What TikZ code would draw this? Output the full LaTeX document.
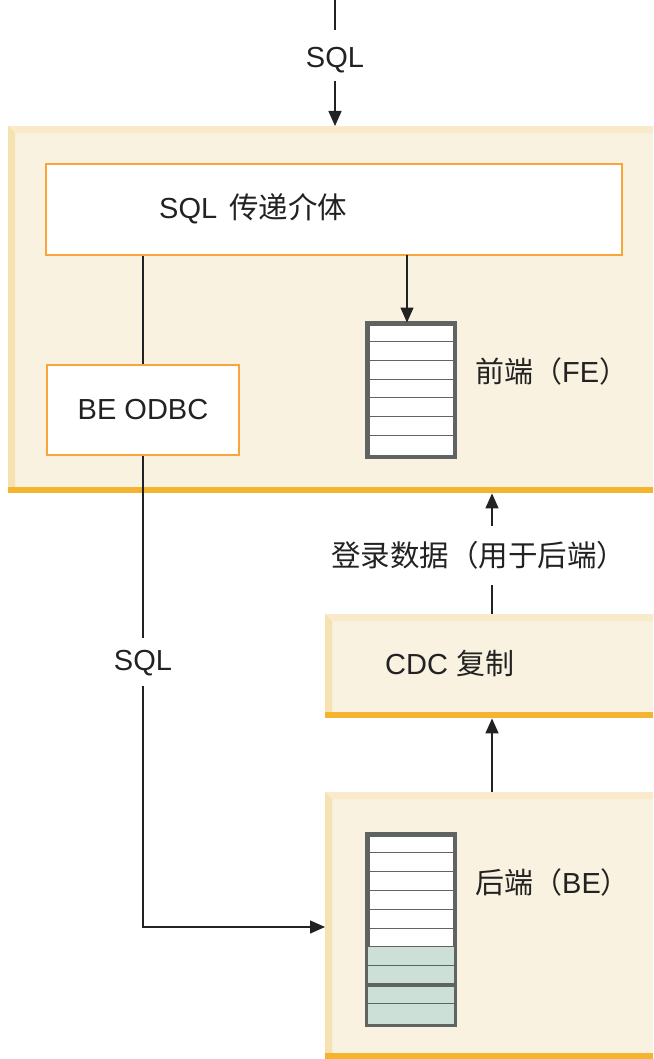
\documentclass[tikz,border=0pt]{standalone}
\usepackage{fontspec}
\setmainfont{Liberation Sans}
\newfontfamily\cjk{Noto Sans CJK SC}
\usetikzlibrary{arrows.meta}

\definecolor{cream}{HTML}{F9F2E1}
\definecolor{bevtop}{HTML}{F8EACB}
\definecolor{bevleft}{HTML}{F6E2B1}
\definecolor{barorange}{HTML}{F5B42E}
\definecolor{boxorange}{HTML}{F9A53A}
\definecolor{tabgray}{HTML}{5F6361}
\definecolor{rowgreen}{HTML}{CCE0D7}
\definecolor{ink}{HTML}{222222}

\tikzset{
  panel/.style={fill=cream, inner sep=0pt, anchor=north west, path picture={
    \fill[bevtop] (path picture bounding box.north west) -- (path picture bounding box.north east)
      -- ([yshift=-7pt]path picture bounding box.north east) -- ([shift={(7pt,-7pt)}]path picture bounding box.north west) -- cycle;
    \fill[bevleft] (path picture bounding box.north west) -- ([shift={(7pt,-7pt)}]path picture bounding box.north west)
      -- ([shift={(7pt,6pt)}]path picture bounding box.south west) -- (path picture bounding box.south west) -- cycle;
    \fill[barorange] (path picture bounding box.south west) rectangle ([yshift=6pt]path picture bounding box.south east);
  }},
  ibox/.style={draw=boxorange, line width=1.5pt, fill=white, inner sep=0pt},
  tab/.style={draw=tabgray, line width=3pt, fill=white, inner sep=0pt, anchor=north west, minimum width=86pt},
  txt/.style={text=ink, inner sep=0pt, font=\fontsize{29}{34}\selectfont},
  arr/.style={-{Triangle[length=15pt,width=13pt]}},
  con/.style={draw=ink, line width=1.5pt},
}

\begin{document}
\begin{tikzpicture}[x=1pt, y=-1pt]
\useasboundingbox (0,0) rectangle (653,1059);

% front end panel
\node[panel, minimum width=645pt, minimum height=367pt] (fe) at (8,126) {};
\node[ibox, minimum width=576pt, minimum height=91pt] (pass) at (334,209.5) {};
\node[txt, anchor=west] (passtxt) at (159,209) {SQL\hspace{12pt}{\cjk\fontsize{29.5}{34}\selectfont 传递介体}};
\node[ibox, minimum width=192pt, minimum height=90pt] (odbc) at (143,410) {};
\node[txt] (odbctxt) at (143,410) {BE ODBC};
\node[tab, minimum height=132pt] (fetab) at (366.5,322.5) {};
\foreach \i in {1,...,6}
  \draw[tabgray, line width=1pt] ([yshift=-\i*18.86pt]fetab.north west) -- ([yshift=-\i*18.86pt]fetab.north east);
\draw[tabgray, line width=3pt] (fetab.north west) rectangle (fetab.south east);
\node[txt, anchor=west] (fetxt) at (475,371) {{\cjk 前端（}FE{\cjk ）}};

% replication panel
\node[panel, minimum width=328pt, minimum height=104pt] (cdc) at (325,614) {};
\node[txt, anchor=west] (cdctxt) at (385,663) {CDC {\cjk 复制}};

% back end panel
\node[panel, minimum width=328pt, minimum height=267pt] (be) at (325,792) {};
\node[tab, minimum height=189pt] (betab) at (366.5,833.5) {};
\fill[rowgreen] ([yshift=-113.4pt]betab.north west) rectangle (betab.south east);
\foreach \i in {1,...,9}
  \draw[tabgray, line width=1pt] ([yshift=-\i*18.9pt]betab.north west) -- ([yshift=-\i*18.9pt]betab.north east);
\draw[tabgray, line width=4pt] ([yshift=-151.2pt]betab.north west) -- ([yshift=-151.2pt]betab.north east);
\draw[tabgray, line width=3pt] (betab.north west) rectangle (betab.south east);
\node[txt, anchor=west] (betxt) at (475,882) {{\cjk 后端（}BE{\cjk ）}};

% labels on connectors
\node[txt] (sqlin) at (335,60) {SQL};
\node[txt] (sqlbe) at (143,663) {SQL};
\node[txt, anchor=west] (logtxt) at (331,555) {\cjk\fontsize{29.5}{34}\selectfont 登录数据（用于后端）};
\coordinate (top) at (335,0);
\coordinate (passout) at (407,255);
\coordinate (repx) at (492,0);
\coordinate (logtop) at (492,526);
\coordinate (logbot) at (492,585);
\coordinate (bein) at (0,927);

% connectors
\draw[con] (top) -- ([yshift=17pt]sqlin.north);
\draw[con, arr] ([yshift=-8pt]sqlin.south) -- (sqlin |- fe.north);
\draw[con, arr] (passout) -- (fetab.north -| passout);
\draw[con] (pass.south -| odbc) -- (odbc.north);
\draw[con] (odbc.south) -- ([yshift=12pt]sqlbe.north);
\draw[con, arr] ([yshift=-10pt]sqlbe.south) |- (be.west |- bein);
\draw[con] (cdc.north -| repx) -- (logbot);
\draw[con, arr] (logtop) -- (fe.south -| repx);
\draw[con, arr] (be.north -| repx) -- (cdc.south -| repx);
\end{tikzpicture}
\end{document}
